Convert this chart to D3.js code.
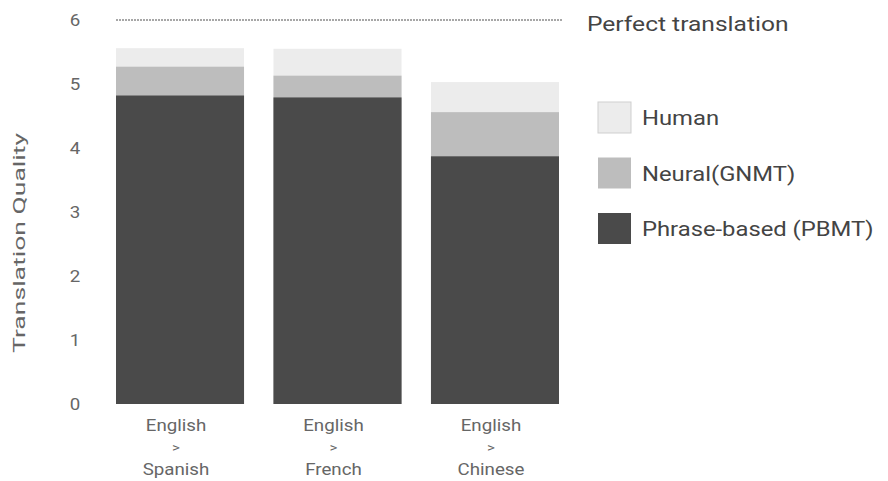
<!DOCTYPE html>
<html>
<head>
<meta charset="utf-8">
<script src="https://cdn.jsdelivr.net/npm/d3@7"></script>
<style>
  body { margin: 0; background: #fff; }
  text { font-family: Roboto, 'Noto Sans', sans-serif; }
</style>
</head>
<body>
<div id="chart"></div>
<script>
const pairs = ['English > Spanish', 'English > French', 'English > Chinese']
const human = [5.56, 5.55, 5.03]
const neural = [5.27, 5.13, 4.56]
const pbmt = [4.82, 4.79, 3.87]
const yTicks = [0, 1, 2, 3, 4, 5, 6]
const perfect = 6

const seriesNames = ['Human', 'Neural(GNMT)', 'Phrase-based (PBMT)']
const seriesColors = ['#ececec', '#bdbdbd', '#4a4a4a']
const seriesValues = [human, neural, pbmt]

const width = 888
const height = 481
// text in the reference is a little wider than plain Roboto
const stretch = 1.17

const svg = d3.select('#chart').append('svg')
    .attr('width', width)
    .attr('height', height)

const x = d3.scaleBand()
    .domain(pairs)
    .range([116, 559])
    .paddingInner(0.187)
    .paddingOuter(0)

const y = d3.scaleLinear()
    .domain([0, 6])
    .range([404, 20])

// bars are overlaid, tallest first
seriesValues.forEach(function (vals, i) {
  svg.append('g').selectAll('rect')
      .data(pairs)
    .enter().append('rect')
      .attr('x', d => x(d))
      .attr('width', x.bandwidth())
      .attr('y', (d, j) => y(vals[j]))
      .attr('height', (d, j) => y(0) - y(vals[j]))
      .attr('fill', seriesColors[i])
})

// perfect translation line
svg.append('line')
    .attr('x1', x.range()[0])
    .attr('x2', x.range()[1] + 3)
    .attr('y1', y(perfect))
    .attr('y2', y(perfect))
    .attr('stroke', '#8a8a8a')
    .attr('stroke-width', 1.5)
    .attr('stroke-dasharray', '2,1')

svg.append('text')
    .attr('transform', 'translate(587,' + (y(perfect) + 11) + ')scale(' + stretch + ',1)')
    .attr('font-size', 21)
    .attr('fill', '#444')
    .text('Perfect translation')

// y axis tick labels
svg.append('g').selectAll('text')
    .data(yTicks)
  .enter().append('text')
    .attr('transform', d => 'translate(75,' + y(d) + ')scale(' + stretch + ',1)')
    .attr('dy', '0.35em')
    .attr('text-anchor', 'middle')
    .attr('font-size', 16)
    .attr('fill', '#666')
    .text(d => d)

svg.append('text')
    .attr('transform', 'translate(25,243)rotate(-90)')
    .attr('text-anchor', 'middle')
    .attr('font-size', 17)
    .attr('textLength', 220)
    .attr('lengthAdjust', 'spacingAndGlyphs')
    .attr('fill', '#666')
    .text('Translation Quality')

// x labels, split on the arrow
const xg = svg.append('g').selectAll('g')
    .data(pairs)
  .enter().append('g')
    .attr('transform', d => 'translate(' + (x(d) + x.bandwidth() / 2 - 4) + ',0)scale(' + stretch + ',1)')
xg.selectAll('text')
    .data(d => d.split(' '))
  .enter().append('text')
    .attr('y', (d, i) => [431, 452, 475][i])
    .attr('text-anchor', 'middle')
    .attr('font-size', (d, i) => i === 1 ? 13 : 16)
    .attr('fill', '#666')
    .text(d => d)

// legend
const legend = svg.append('g').selectAll('g')
    .data(seriesNames)
  .enter().append('g')
    .attr('transform', (d, i) => 'translate(598,' + (102 + i * 55.5) + ')')

legend.append('rect')
    .attr('width', 33)
    .attr('height', 31)
    .attr('fill', (d, i) => seriesColors[i])
    .attr('stroke', (d, i) => i === 0 ? '#cfcfcf' : 'none')

legend.append('text')
    .attr('transform', 'translate(44,23)scale(1.19,1)')
    .attr('font-size', 20)
    .attr('fill', '#444')
    .text(d => d)
</script>
</body>
</html>
